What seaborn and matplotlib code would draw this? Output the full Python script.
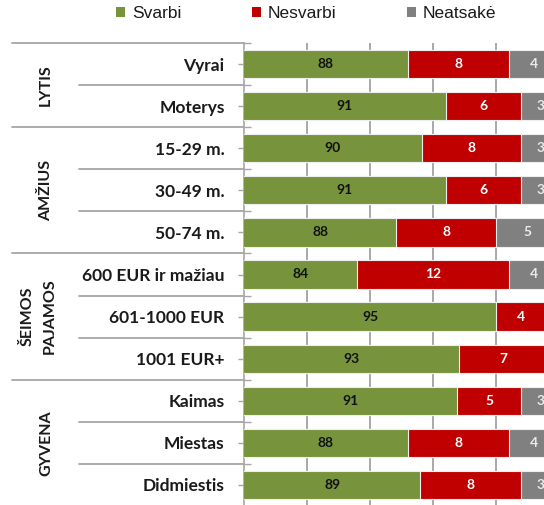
import numpy as np
import pandas as pd
import matplotlib
matplotlib.use("Agg")
import matplotlib.pyplot as plt
import matplotlib.transforms as mtransforms
from matplotlib.patches import Patch
import seaborn as sns

# ---------------- data ----------------
categories = ["Vyrai", "Moterys", "15-29 m.", "30-49 m.", "50-74 m.",
              "600 EUR ir mažiau", "601-1000 EUR", "1001 EUR+",
              "Kaimas", "Miestas", "Didmiestis"]
groups = ["LYTIS", "AMŽIUS", "ŠEIMOS\nPAJAMOS", "GYVENA"]
group_sizes = [2, 3, 3, 3]
series_names = ["Svarbi", "Nesvarbi", "Neatsakė"]

svarbi = [88.0, 91.0, 89.1, 91.0, 87.1, 84.0, 95.0, 92.1, 91.9, 88.0, 89.0]
nesvarbi = [8.0, 6.0, 7.9, 6.0, 7.9, 12.0, 4.0, 7.0, 5.1, 8.0, 8.0]
neatsake = [4.0, 3.0, 3.0, 3.0, 5.0, 4.0, 1.0, 0.9, 3.0, 4.0, 3.0]

svarbi_lbl = ["88", "91", "90", "91", "88", "84", "95", "93", "91", "88", "89"]
nesvarbi_lbl = ["8", "6", "8", "6", "8", "12", "4", "7", "5", "8", "8"]
neatsake_lbl = ["4", "3", "3", "3", "5", "4", "1", "1", "3", "4", "3"]

# ---------------- style ----------------
GREEN, RED, GRAY = "#77933C", "#C00000", "#808080"
LINE = "#a6a6a6"
sns.set_theme(style="white")
plt.rcParams["font.family"] = ["Lato", "DejaVu Sans"]

W, H = 544, 505
fig = plt.figure(figsize=(W / 100, H / 100), dpi=100)
ax_left, ax_right, ax_top, ax_bot = 244, 559, 43, 506
ax = fig.add_axes([ax_left / W, 1 - ax_bot / H, (ax_right - ax_left) / W, (ax_bot - ax_top) / H])

s = np.array(svarbi)
n = np.array(nesvarbi)
g = np.array(neatsake)
df = pd.DataFrame({"cat": categories, "c1": s, "c2": s + n, "c3": s + n + g})

for col, color in [("c3", GRAY), ("c2", RED), ("c1", GREEN)]:
    sns.barplot(data=df, x=col, y="cat", orient="h", color=color, saturation=1,
                width=0.67, errorbar=None, edgecolor="#eeeeee", linewidth=0.8,
                ax=ax, zorder=3)

XMIN, XMAX = 75, 100
ax.set_xlim(XMIN, XMAX)
ax.set_ylim(len(categories) - 0.5, -0.5)
ax.set_xlabel("")
ax.set_ylabel("")
ax.set_xticks([80, 85, 90, 95, 100])
ax.set_xticklabels([])
ax.tick_params(axis="x", length=0)
ax.xaxis.grid(True, color="#999999", linewidth=1.2)
ax.set_axisbelow(True)
for sp in ["top", "right", "bottom"]:
    ax.spines[sp].set_visible(False)
ax.spines["left"].set_color(LINE)
ax.spines["left"].set_linewidth(1.2)

ax.tick_params(axis="y", which="major", length=4, width=1, color=LINE, pad=10,
               labelsize=12.5, labelcolor="#1a1a1a", left=True)
for t in ax.get_yticklabels():
    t.set_fontweight("bold")
ax.set_yticks(np.arange(len(categories) + 1) - 0.5, minor=True)
ax.tick_params(axis="y", which="minor", direction="in", length=5, width=1, color=LINE, left=True)

# visible right limit of the (cropped) plot area in data units
vis_max = XMIN + (W - ax_left) / (ax_right - ax_left) * (XMAX - XMIN)

# value labels
for i in range(len(categories)):
    ax.text((XMIN + s[i]) / 2, i, svarbi_lbl[i], ha="center", va="center",
            fontsize=10, fontweight="bold", color="#111111", zorder=5)
    ax.text(s[i] + n[i] / 2, i, nesvarbi_lbl[i], ha="center", va="center",
            fontsize=10, fontweight="bold", color="white", zorder=5)
    gx = s[i] + n[i] + g[i] / 2
    if gx < vis_max:
        ax.text(gx, i, neatsake_lbl[i], ha="center", va="center",
                fontsize=10, fontweight="bold", color="#eaeaea", zorder=5)

# group separators and labels
trans = mtransforms.blended_transform_factory(ax.transAxes, ax.transData)
axw = ax_right - ax_left
x_outer = (12 - ax_left) / axw
x_inner = (79 - ax_left) / axw
LINE_GAP = 22  # px between lines of a rotated multi-line group label
start = 0
for gname, gs in zip(groups, group_sizes):
    for k in range(1, gs):
        y = start + k - 0.5
        ax.plot([x_inner, 0], [y, y], transform=trans, clip_on=False, color=LINE, lw=1.3)
    end = start + gs
    ax.plot([x_outer, 0], [end - 0.5, end - 0.5], transform=trans, clip_on=False, color=LINE, lw=1.3)
    parts = gname.split("\n")
    center_px = 46 if len(parts) == 1 else 39
    for j, part in enumerate(parts):
        px = center_px + (j - (len(parts) - 1) / 2) * LINE_GAP
        ax.text((px - ax_left) / axw, start + gs / 2 - 0.5, part, transform=trans,
                rotation=90, ha="center", va="center",
                fontsize=11.5, fontweight="bold", color="#1a1a1a")
    start = end
ax.plot([x_outer, 0], [-0.5, -0.5], transform=trans, clip_on=False, color=LINE, lw=1.3)

# legend
handles = [Patch(facecolor=c, edgecolor="none") for c in (GREEN, RED, GRAY)]
fig.legend(handles, series_names, loc="center", bbox_to_anchor=(306 / W, 1 - 13.5 / H),
           ncol=3, frameon=False, prop={"family": "Liberation Sans", "size": 12.5},
           handlelength=0.52, handleheight=0.52, handletextpad=0.4,
           columnspacing=4.05, borderpad=0, labelcolor="#1a1a1a")

fig.savefig("out.png", dpi=100)
